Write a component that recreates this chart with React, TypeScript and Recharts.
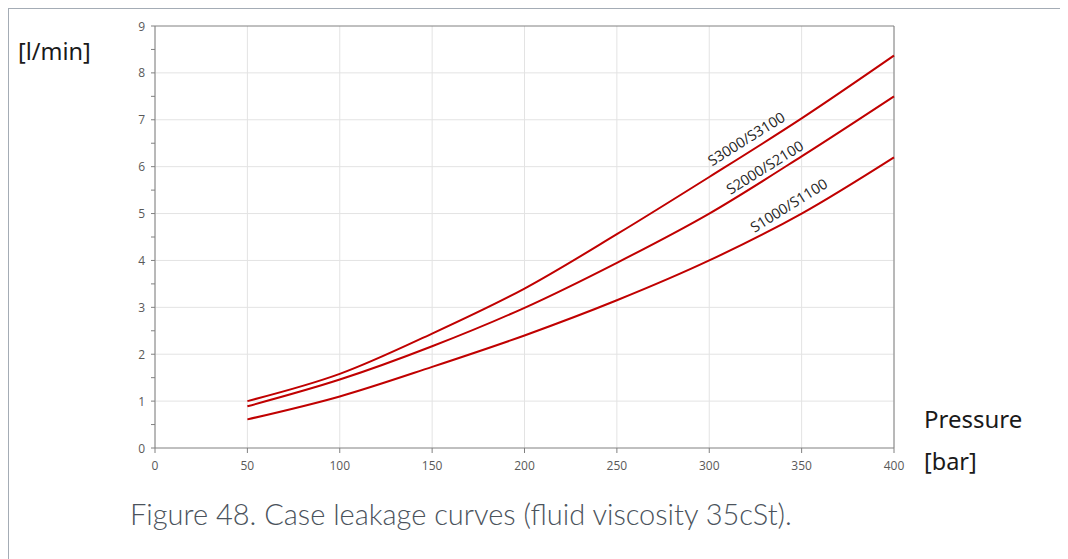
import React from "react";
import { LineChart, Line, XAxis, YAxis, CartesianGrid, ReferenceLine, ReferenceDot } from "recharts";

// pressure [bar] and case leakage [l/min]
const pressure = [50, 100, 150, 200, 250, 300, 350, 400];
const s3000 = [1.0, 1.58, 2.44, 3.4, 4.56, 5.78, 7.03, 8.37];
const s2000 = [0.89, 1.46, 2.17, 2.99, 3.95, 5.0, 6.22, 7.5];
const s1000 = [0.61, 1.1, 1.73, 2.4, 3.15, 4.0, 5.0, 6.2];

const xTicks = [0, 50, 100, 150, 200, 250, 300, 350, 400];
const yTicks = [0, 0.5, 1, 1.5, 2, 2.5, 3, 3.5, 4, 4.5, 5, 5.5, 6, 6.5, 7, 7.5, 8, 8.5, 9];
const yGrid = [1, 2, 3, 4, 5, 6, 7, 8];

const curveNames = ["S3000/S3100", "S2000/S2100", "S1000/S1100"];
const curveLabelX = [320, 330, 343];
const curveLabelY = [6.6, 5.99, 5.18];

const RED = "#c00000";
const AXIS = "#808080";
const TICK_TEXT = "#595959";

const YTick = (props: any) => {
  const { x, y, payload } = props;
  if (payload.value % 1 !== 0) return null;
  return (
    <text x={x} y={y} textAnchor="end" dominantBaseline="central" fill={TICK_TEXT} fontSize={12} fontFamily="Open Sans">
      {payload.value}
    </text>
  );
};

const curveLabel = (text: string) => (props: any) => (
  <text
    x={props.cx}
    y={props.cy}
    textAnchor="middle"
    dominantBaseline="central"
    fontSize={14.5}
    fontFamily="Open Sans"
    fill="#262626"
    transform={`rotate(-32 ${props.cx} ${props.cy})`}
  >
    {text}
  </text>
);

export default function App() {
  const data = pressure.map((p, i) => ({ p, s3000: s3000[i], s2000: s2000[i], s1000: s1000[i] }));
  const border = "1px solid #a4acb5";

  return (
    <div
      style={{
        position: "relative",
        width: 1060,
        height: 551,
        boxSizing: "border-box",
        borderTop: border,
        borderLeft: border,
        borderRight: border,
        fontFamily: "Noto Sans",
      }}
    >
      <LineChart
        width={1000}
        height={480}
        data={data}
        margin={{ top: 17, right: 115, bottom: 0, left: 0 }}
        style={{ position: "absolute", left: 0, top: 0 }}
      >
        <CartesianGrid horizontal={false} stroke="#e3e3e3" />
        {yGrid.map((v) => (
          <ReferenceLine key={v} y={v} stroke="#e3e3e3" />
        ))}
        <ReferenceLine y={9} stroke={AXIS} />
        <ReferenceLine x={400} stroke={AXIS} />
        <XAxis
          dataKey="p"
          type="number"
          domain={[0, 400]}
          ticks={xTicks}
          height={41}
          tickSize={5}
          tickMargin={8}
          stroke={AXIS}
          tick={{ fill: TICK_TEXT, fontSize: 12, fontFamily: "Open Sans" }}
        />
        <YAxis
          type="number"
          domain={[0, 9]}
          ticks={yTicks}
          width={146}
          tickSize={4}
          tickMargin={6}
          stroke={AXIS}
          tick={<YTick />}
        />
        <Line dataKey="s3000" type="monotone" stroke={RED} strokeWidth={2} dot={false} isAnimationActive={false} />
        <Line dataKey="s2000" type="monotone" stroke={RED} strokeWidth={2} dot={false} isAnimationActive={false} />
        <Line dataKey="s1000" type="monotone" stroke={RED} strokeWidth={2} dot={false} isAnimationActive={false} />
        {curveNames.map((name, i) => (
          <ReferenceDot key={name} x={curveLabelX[i]} y={curveLabelY[i]} r={0} shape={curveLabel(name)} />
        ))}
      </LineChart>

      <div style={{ position: "absolute", left: 9, top: 26, fontSize: 23.5, color: "#1a1a1a", whiteSpace: "nowrap" }}>[l/min]</div>
      <div style={{ position: "absolute", left: 915, top: 393, fontSize: 24, color: "#1a1a1a", whiteSpace: "nowrap" }}>Pressure</div>
      <div style={{ position: "absolute", left: 915, top: 436, fontSize: 23.5, color: "#1a1a1a", whiteSpace: "nowrap" }}>[bar]</div>
      <div
        style={{
          position: "absolute",
          left: 121,
          top: 487,
          fontSize: 29,
          fontFamily: "Lato",
          fontWeight: 300,
          color: "#4b535c",
          whiteSpace: "nowrap",
        }}
      >
        Figure 48. Case leakage curves (fluid viscosity 35cSt).
      </div>
    </div>
  );
}
